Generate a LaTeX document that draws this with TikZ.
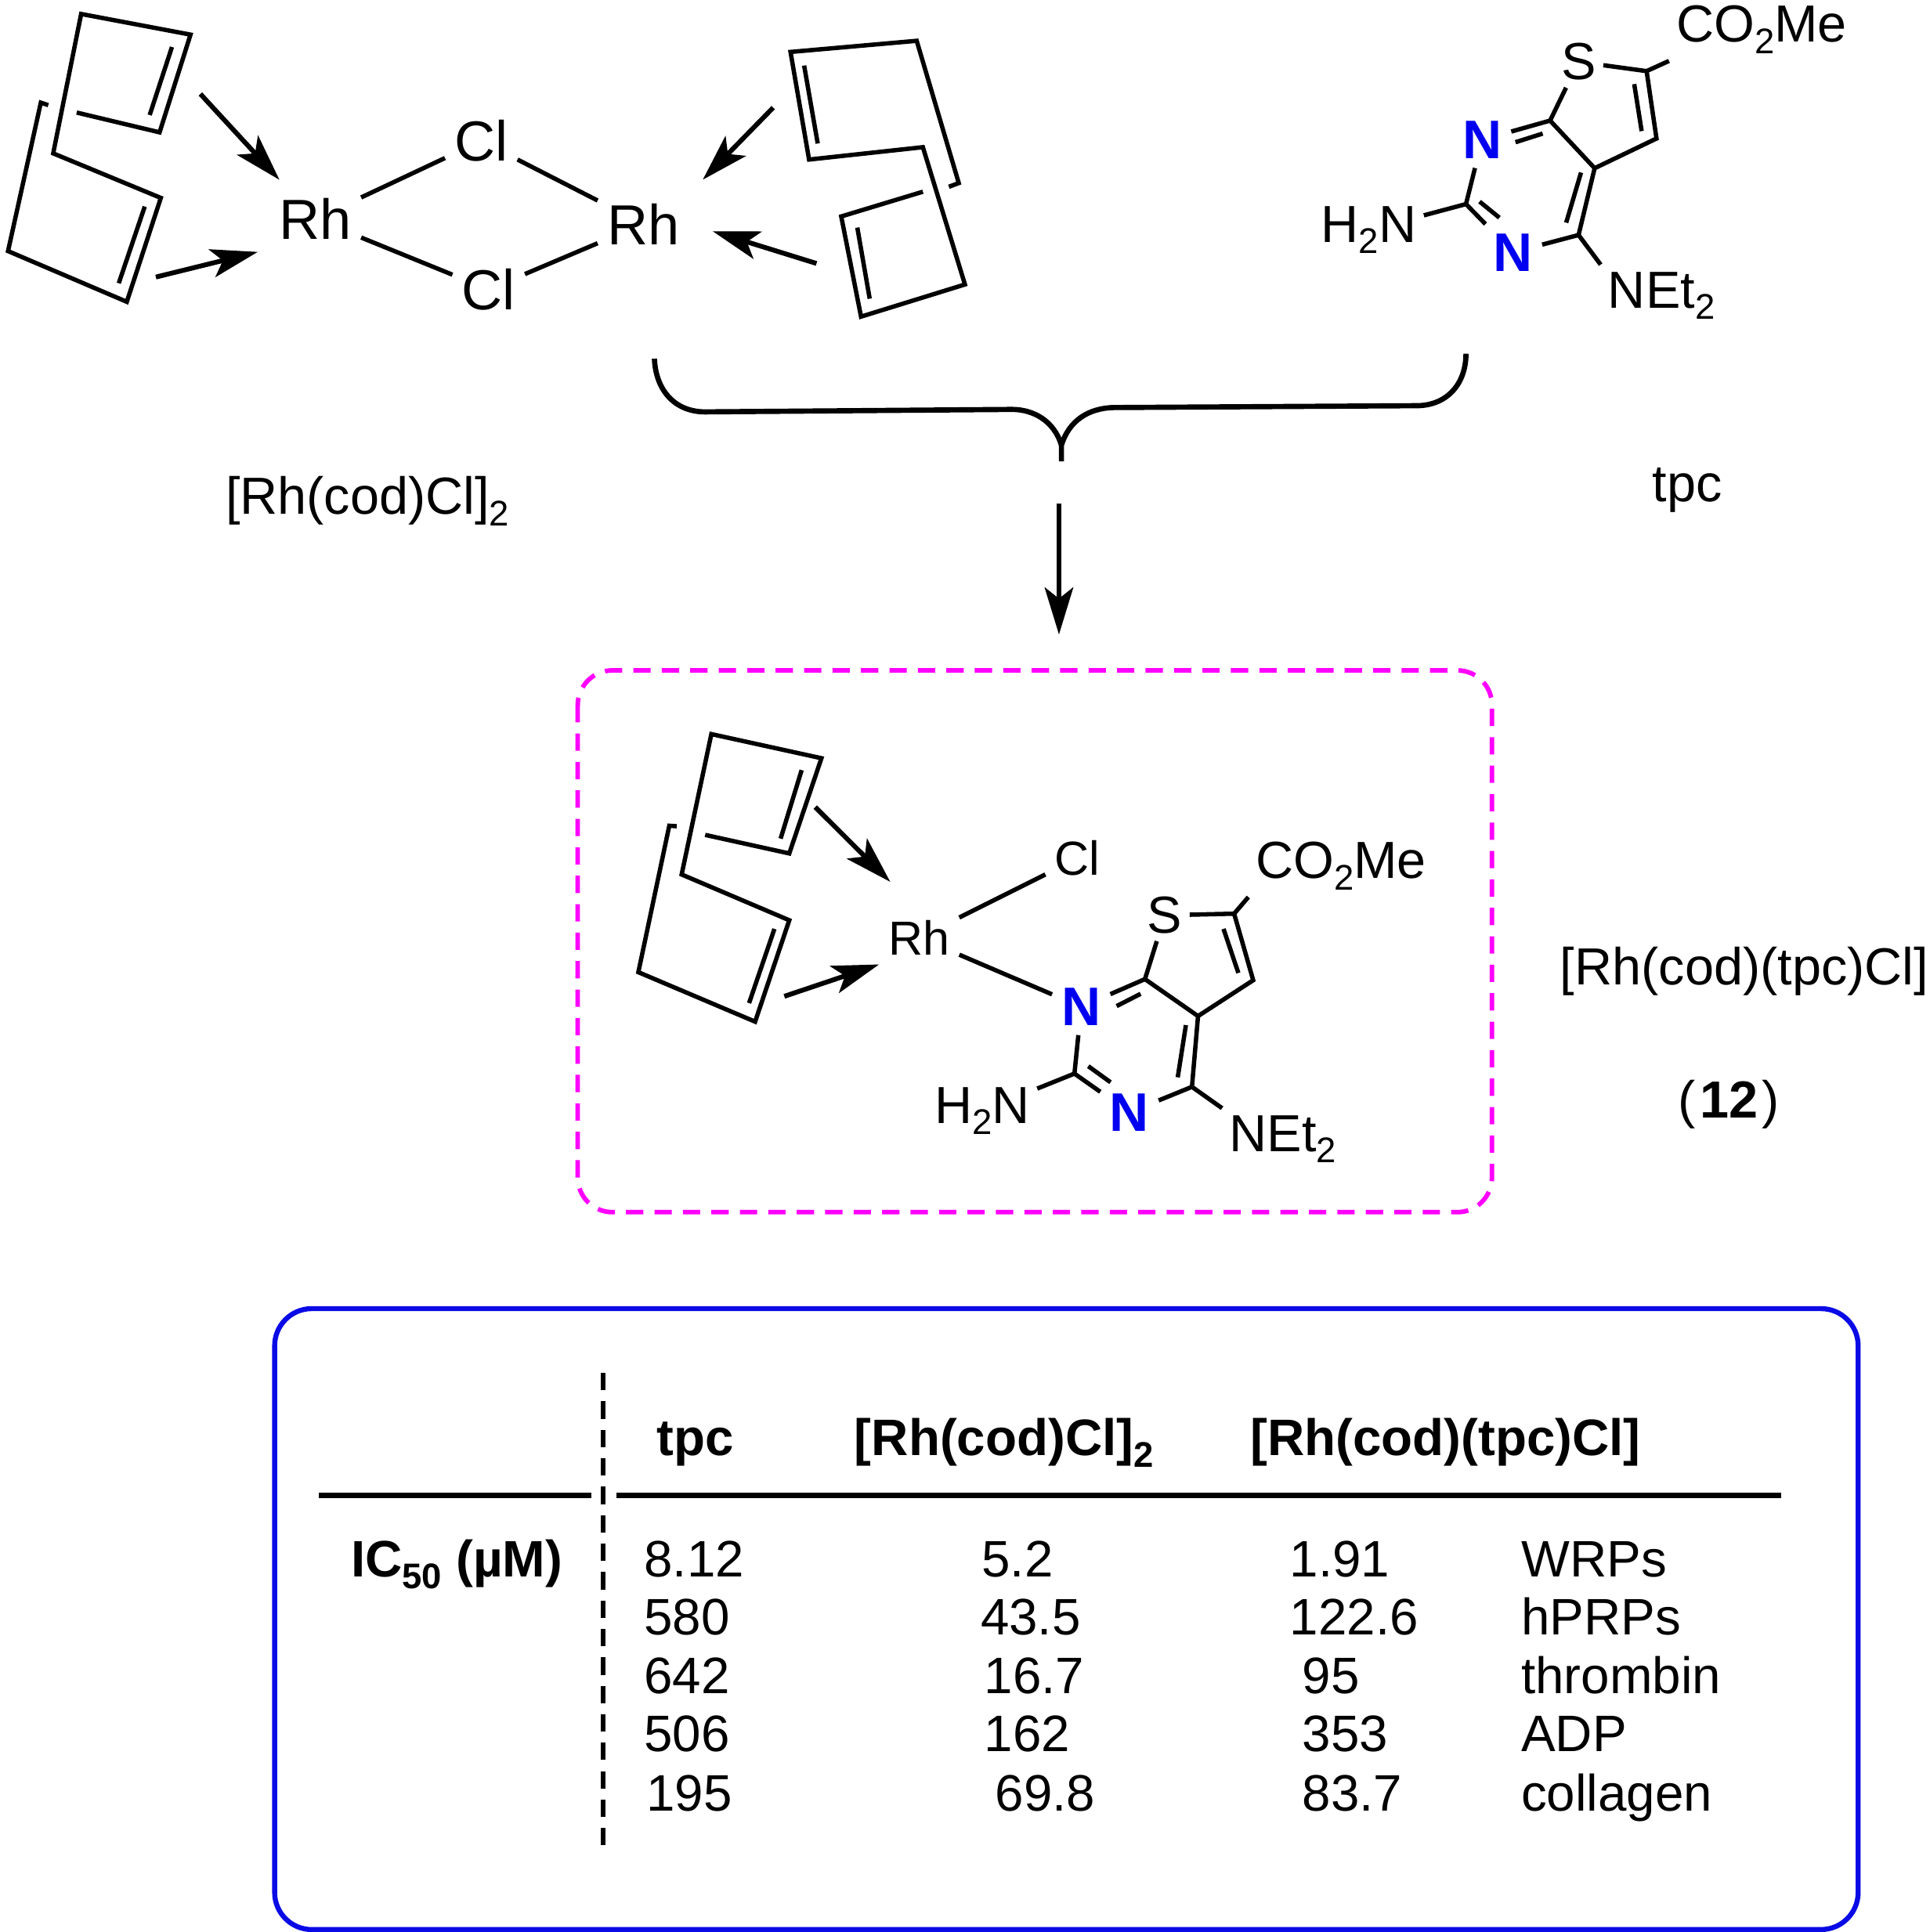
\documentclass[tikz,border=0pt]{standalone}
\usepackage{fontspec}
\setmainfont{Liberation Sans}
\usetikzlibrary{arrows.meta}
\definecolor{boxmag}{HTML}{FF00FF}
\definecolor{boxblue}{HTML}{0A0AE6}
\definecolor{atomblue}{HTML}{0000F0}
\newcommand{\sbt}[1]{\raisebox{-2.6pt}{\fontsize{8.2}{8.2}\selectfont #1}}
\tikzset{
    bond/.style={line width=1pt},
    coord/.style={-{Stealth[length=.38cm,width=.23cm,inset=.09cm]},line width=1.1pt},
    atom/.style={font=\fontsize{12}{14}\selectfont,inner sep=1.5pt},
    bigatom/.style={font=\fontsize{13}{15}\selectfont,inner sep=2pt},
    smallatom/.style={font=\fontsize{11}{13}\selectfont,inner sep=2pt},
    natom/.style={font=\fontsize{12.5}{14}\selectfont\bfseries,text=atomblue,inner sep=2pt},
    cell/.style={font=\fontsize{11.8}{14}\selectfont,anchor=base west,inner sep=0pt},
    hcell/.style={font=\fontsize{11.8}{14}\selectfont\bfseries,anchor=base west,inner sep=0pt},
}
\begin{document}
\begin{tikzpicture}[yscale=-1]
        \useasboundingbox (0,0) rectangle (15.6,15.62);

        %%%%%%%%%% cod sinistra %%%%%%%%%%
        \draw[bond] (.62,.91) -- (1.29,1.07) -- (1.54,.28) -- (.656,.113) -- (.43,1.24)
            -- (1.30,1.60) -- (1.025,2.44) -- (.065,2.03) -- (.33,.83) -- (.39,.85);
        \draw[bond] (1.39,.38) -- (1.21,.93);
        \draw[bond] (1.17,1.67) -- (.96,2.29);

        %%%%%%%%%% cod destra %%%%%%%%%%
        \draw[bond] (7.67,1.51) -- (7.75,1.48) -- (7.41,.33) -- (6.39,.42) -- (6.54,1.29)
            -- (7.46,1.19) -- (7.80,2.30) -- (6.96,2.56) -- (6.80,1.75) -- (7.46,1.55);
        \draw[bond] (6.50,.53) -- (6.61,1.16);
        \draw[bond] (6.93,1.84) -- (7.03,2.415);

        %%%%%%%%%% Dimero %%%%%%%%%%
        \node[bigatom] (rhl) at (2.55,1.77) {Rh};
        \node[bigatom] (rhr) at (5.20,1.81) {Rh};
        \node[bigatom] (clt) at (3.89,1.14) {Cl};
        \node[bigatom] (clb) at (3.95,2.34) {Cl};
        \draw[bond] (rhl) -- (clt);
        \draw[bond] (rhl) -- (clb);
        \draw[bond] (rhr) -- (clt);
        \draw[bond] (rhr) -- (clb);

        \coordinate (fa) at (1.62,.76);
        \coordinate (fb) at (1.26,2.24);
        \coordinate (fc) at (6.25,.87);
        \coordinate (fd) at (6.60,2.13);
        \draw[coord,shorten >=.1cm] (fa) -- (rhl);
        \draw[coord,shorten >=.1cm] (fb) -- (rhl.south west);
        \draw[coord,shorten >=.16cm] (fc) -- (rhr.north east);
        \draw[coord,shorten >=.2cm] (fd) -- (rhr.east);

        \node[atom] (lbla) at (2.97,4.05) {[Rh(cod)Cl]\sbt{2}};
        \node[atom] (lblb) at (13.64,3.96) {tpc};

        %%%%%%%%%% tpc %%%%%%%%%%
        \coordinate (tc5) at (13.31,.575);
        \coordinate (tc4) at (13.39,1.12);
        \coordinate (tc3) at (12.89,1.36);
        \coordinate (tc7) at (12.53,.975);
        \coordinate (tc2) at (11.85,1.65);
        \coordinate (tc6) at (12.76,1.90);
        \node[atom] (ts) at (12.76,.50) {S};
        \node[atom] (tco) at (14.24,.24) {CO\sbt{2}Me};
        \node[natom] (tna) at (11.98,1.13) {N};
        \node[natom] (tnb) at (12.23,2.04) {N};
        \node[atom] (tnh) at (11.065,1.86) {H\sbt{2}N};
        \node[atom] (tne) at (13.43,2.39) {NEt\sbt{2}};

        \draw[bond] (ts) -- (tc5);
        \draw[bond] (tc5) -- (tco.south west);
        \draw[bond] (tc5) -- (tc4) -- (tc3) -- (tc7);
        \draw[bond] (ts) -- (tc7);
        \draw[bond] (tc7) -- (tna);
        \draw[bond] (tna) -- (tc2);
        \draw[bond] (tc2) -- (tnh);
        \draw[bond] (tc2) -- (tnb);
        \draw[bond] (tnb) -- (tc6);
        \draw[bond] (tc6) -- (tc3);
        \draw[bond] (tc6) -- (tne.north west);
        \draw[bond] (13.21,.68) -- (13.27,1.06);
        \draw[bond] (12.47,1.08) -- (12.25,1.15);
        \draw[bond] (11.96,1.63) -- (12.12,1.76);
        \draw[bond] (12.66,1.80) -- (12.78,1.395);

        %%%%%%%%%% Graffa %%%%%%%%%%
        \coordinate (brl) at (5.29,2.90);
        \coordinate (brr) at (11.85,2.86);
        \coordinate (brt) at (8.58,3.60);
        \coordinate (brb) at (8.58,3.73);
        \draw[line width=1.2pt] (brl) .. controls (5.30,3.15) and (5.45,3.33) .. (5.70,3.33)
            -- (8.18,3.31) .. controls (8.35,3.31) and (8.52,3.40) .. (brt);
        \draw[line width=1.2pt] (brr) .. controls (11.85,3.10) and (11.70,3.28) .. (11.45,3.28)
            -- (9.00,3.295) .. controls (8.80,3.30) and (8.64,3.40) .. (brt) -- (brb);

        \coordinate (aa) at (8.56,4.07);
        \coordinate (ab) at (8.56,5.13);
        \draw[coord,line width=1.2pt] (aa) -- (ab);

        %%%%%%%%%% Prodotto %%%%%%%%%%
        \draw[boxmag,line width=1.05pt,dash pattern=on .14cm off .09cm,rounded corners=.28cm]
            (4.67,5.42) rectangle (12.06,9.80);

        \draw[bond] (5.70,6.75) -- (6.38,6.90) -- (6.64,6.13) -- (5.75,5.935) -- (5.51,7.07)
            -- (6.38,7.44) -- (6.104,8.26) -- (5.16,7.86) -- (5.41,6.676) -- (5.47,6.68);
        \draw[bond] (6.48,6.226) -- (6.31,6.78);
        \draw[bond] (6.26,7.51) -- (6.055,8.11);

        \node[smallatom] (prh) at (7.43,7.58) {Rh};
        \node[smallatom] (pcl) at (8.71,6.94) {Cl};
        \node[natom] (pna) at (8.74,8.14) {N};
        \node[natom] (pnb) at (9.13,8.993) {N};
        \node[atom] (ps) at (9.416,7.40) {S};
        \node[atom] (pco) at (10.84,7.00) {CO\sbt{2}Me};
        \node[atom] (pnh) at (7.94,8.98) {H\sbt{2}N};
        \node[atom] (pne) at (10.37,9.21) {NEt\sbt{2}};

        \coordinate (pc5) at (9.976,7.387);
        \coordinate (pc4) at (10.13,7.925);
        \coordinate (pc3) at (9.684,8.215);
        \coordinate (pc7) at (9.255,7.916);
        \coordinate (pc2) at (8.685,8.68);
        \coordinate (pc6) at (9.635,8.787);

        \draw[bond] (prh) -- (pcl);
        \draw[bond] (prh) -- (pna);
        \draw[bond] (ps) -- (pc5);
        \draw[bond] (pc5) -- (pco.south west);
        \draw[bond] (pc5) -- (pc4) -- (pc3) -- (pc7);
        \draw[bond] (ps) -- (pc7);
        \draw[bond] (pc7) -- (pna);
        \draw[bond] (pna) -- (pc2);
        \draw[bond] (pc2) -- (pnh);
        \draw[bond] (pc2) -- (pnb);
        \draw[bond] (pnb) -- (pc6);
        \draw[bond] (pc6) -- (pc3);
        \draw[bond] (pc6) -- (pne.north west);
        \draw[bond] (9.89,7.51) -- (10.01,7.866);
        \draw[bond] (9.22,8.035) -- (9.026,8.134);
        \draw[bond] (8.797,8.62) -- (8.977,8.75);
        \draw[bond] (9.52,8.71) -- (9.586,8.288);

        \coordinate (pa) at (6.59,6.525);
        \coordinate (pb) at (6.34,8.055);
        \draw[coord,shorten >=.33cm] (pa) -- (prh.north);
        \draw[coord] (pb) -- (prh.south west);

        \node[atom] (plb) at (14.10,7.85) {[Rh(cod)(tpc)Cl]};
        \node[atom] (pnr) at (13.975,8.93) {(\kern1pt\textbf{12}\kern1pt)};

        %%%%%%%%%% Tabella %%%%%%%%%%
        \draw[boxblue,line width=1.15pt,rounded corners=.3cm] (2.22,10.58) rectangle (15.02,15.60);

        \coordinate (va) at (4.875,11.10);
        \coordinate (vb) at (4.875,14.95);
        \draw[line width=1pt,dash pattern=on .14cm off .09cm] (va) -- (vb);
        \draw[line width=1.3pt] (2.58,12.09) -- (4.78,12.09);
        \draw[line width=1.3pt] (4.98,12.09) -- (14.40,12.09);

        \node[hcell] (ha) at (5.30,11.77) {tpc};
        \node[hcell] (hb) at (6.90,11.77) {[Rh(cod)Cl]\sbt{2}};
        \node[hcell] (hc) at (10.10,11.77) {[Rh(cod)(tpc)Cl]};
        \node[hcell] (hd) at (2.83,12.75) {IC\sbt{50} (µM)};

        \foreach \n/\y/\xa/\ta/\xb/\tb/\xc/\tc/\td in {
            1/12.75/5.20/8.12/7.93/5.2/10.42/1.91/WRPs,
            2/13.22/5.20/580/7.92/43.5/10.42/122.6/hPRPs,
            3/13.69/5.20/642/7.95/16.7/10.52/95/thrombin,
            4/14.16/5.20/506/7.95/162/10.52/353/ADP,
            5/14.64/5.22/195/8.04/69.8/10.52/83.7/collagen}
        {
            \node[cell] (ra\n) at (\xa,\y) {\ta};
            \node[cell] (rb\n) at (\xb,\y) {\tb};
            \node[cell] (rc\n) at (\xc,\y) {\tc};
            \node[cell] (rd\n) at (12.29,\y) {\td};
        }
    \end{tikzpicture}
\end{document}
